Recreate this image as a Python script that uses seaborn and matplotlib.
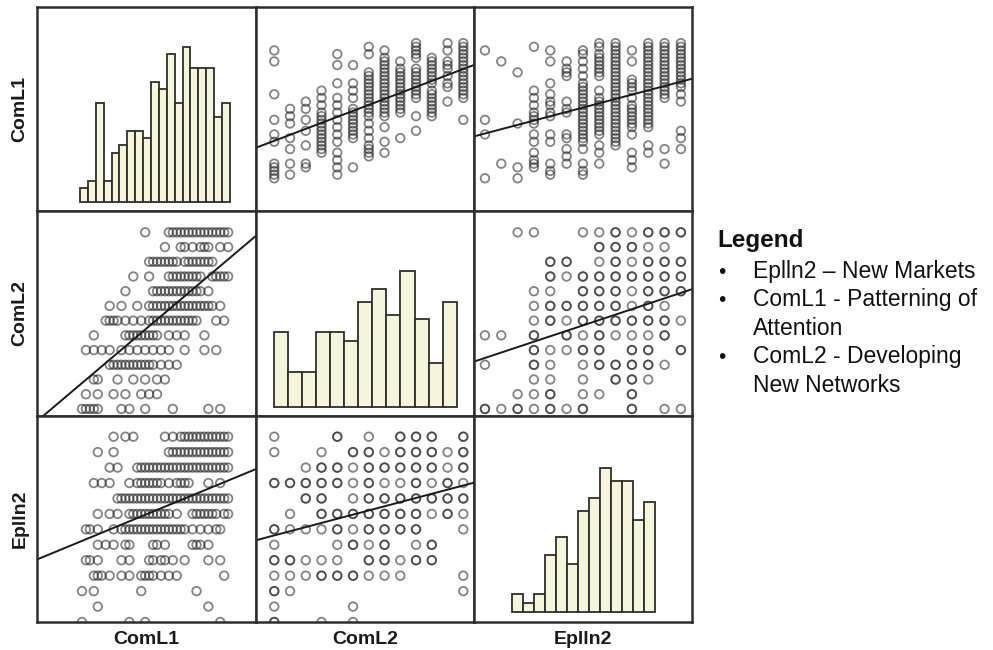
import numpy as np
import matplotlib
matplotlib.use("Agg")
import matplotlib.pyplot as plt
import seaborn as sns

variables = ["ComL1", "ComL2", "Eplln2"]

# diagonal histograms: bar counts
hist_coml1 = [2, 3, 14, 3, 7, 8, 10, 10, 9, 17, 16, 21, 14, 22, 19, 19, 19, 12, 14]
hist_coml2 = [17, 8, 8, 17, 17, 15, 24, 27, 21, 31, 20, 10, 24]
hist_eplln2 = [4, 2, 4, 13, 17, 11, 23, 26, 33, 30, 30, 21, 25]

# ComL1 scores (steps 0..37) seen at each ComL2 level 0..12
coml1_at_coml2 = [
    [0, 1, 2, 3, 4, 10, 12, 16, 23, 32, 35],
    [1, 4, 8, 11, 15, 17, 19],
    [3, 4, 9, 13, 16, 19, 21],
    [7, 8, 9, 10, 11, 12, 13, 14, 15, 16, 17, 18, 20, 22, 24],
    [1, 3, 5, 7, 10, 12, 14, 16, 18, 20, 22, 26, 31, 34],
    [3, 11, 12, 13, 14, 15, 16, 17, 18, 19, 22, 24, 26, 31],
    [6, 7, 8, 9, 11, 13, 15, 17, 18, 19, 20, 21, 22, 23, 24, 25, 26, 27, 28, 29, 34, 36],
    [7, 10, 14, 17, 18, 19, 20, 21, 22, 23, 24, 25, 26, 27, 28, 29, 30, 31, 32, 33, 35],
    [11, 18, 19, 20, 21, 22, 23, 24, 25, 26, 27, 28, 29, 30, 32],
    [13, 17, 22, 23, 24, 25, 26, 27, 28, 29, 30, 33, 34, 35, 36, 37],
    [17, 18, 19, 20, 21, 22, 23, 24, 26, 27, 28, 29, 30, 31, 32, 33],
    [21, 25, 26, 28, 30, 31, 32, 35, 37],
    [16, 22, 23, 24, 25, 26, 27, 28, 29, 30, 31, 32, 33, 34, 35, 36, 37],
]

# ComL1 scores seen at each Eplln2 level 0..12
coml1_at_eplln2 = [
    [0, 12, 16, 35],
    [4, 32],
    [0, 3, 15, 29],
    [3, 4, 5, 7, 10, 12, 15, 16, 17, 18, 20, 22, 24, 36],
    [1, 2, 4, 10, 12, 17, 18, 20, 21, 23, 26, 32, 35],
    [4, 6, 8, 11, 12, 18, 19, 21, 28, 29, 30, 32],
    [1, 2, 4, 8, 10, 11, 12, 13, 14, 15, 16, 17, 18, 19, 20, 21, 22, 23, 24, 25, 26, 28, 30, 32, 34, 35],
    [4, 7, 9, 12, 13, 14, 15, 16, 17, 18, 19, 20, 21, 22, 24, 28, 29, 30, 31, 32, 33, 34, 36, 37],
    [9, 10, 11, 12, 13, 14, 15, 16, 17, 18, 19, 20, 21, 22, 23, 24, 25, 26, 27, 28, 29, 30, 31, 32, 33, 34, 35, 36, 37],
    [3, 5, 7, 12, 14, 15, 16, 17, 18, 19, 20, 22, 24, 25, 26, 27, 32, 35],
    [7, 9, 14, 15, 16, 17, 18, 19, 20, 21, 22, 23, 24, 25, 26, 27, 28, 29, 30, 31, 32, 33, 34, 35, 36, 37],
    [4, 8, 22, 23, 24, 25, 26, 27, 28, 29, 30, 31, 32, 33, 34, 35, 36, 37],
    [8, 11, 13, 21, 23, 25, 26, 27, 28, 29, 30, 31, 32, 33, 34, 35, 36, 37],
]

# ComL2 rows (12 down to 0) x Eplln2 columns (0..12); digit = stacked circles
coml2_eplln2_grid = [
    "0011001121222",
    "0000000222110",
    "0000220121222",
    "0000212222222",
    "0001102221222",
    "0001222221210",
    "0001212222221",
    "1102021211120",
    "0002112202202",
    "1002101222210",
    "0001101022100",
    "0011201102000",
    "2121212002011",
]

legend_title = "Legend"
legend_lines = [
    ("\u2022", "Eplln2 \u2013 New Markets"),
    ("\u2022", "ComL1 - Patterning of"),
    ("", "Attention"),
    ("\u2022", "ComL2 - Developing"),
    ("", "New Networks"),
]


def stack(groups):
    lvl, val = [], []
    for i, vals in enumerate(groups):
        lvl += [i] * len(vals)
        val += list(vals)
    return np.array(lvl), np.array(val)


l2_a, l1_a = stack(coml1_at_coml2)
ep_b, l1_b = stack(coml1_at_eplln2)
l2_c, ep_c = [], []
for r, row in enumerate(coml2_eplln2_grid):
    for c, ch in enumerate(row):
        l2_c += [len(coml2_eplln2_grid) - 1 - r] * int(ch)
        ep_c += [c] * int(ch)
l2_c, ep_c = np.array(l2_c), np.array(ep_c)

values = {
    ("ComL1", "ComL2"): (l1_a, l2_a),
    ("ComL1", "Eplln2"): (l1_b, ep_b),
    ("ComL2", "Eplln2"): (l2_c, ep_c),
}
hists = {"ComL1": hist_coml1, "ComL2": hist_coml2, "Eplln2": hist_eplln2}

# panel limits (layout only)
xlims = {"ComL1": (-11.39, 44.06), "ComL2": (-1.16, 12.68), "Eplln2": (-0.67, 12.68)}
ylims = {"ComL1": (-8.96, 46.9), "ComL2": (-0.48, 13.45), "Eplln2": (0.0, 13.34)}
hist_xlims = {"ComL1": (-5.45, 22.3), "ComL2": (-1.28, 14.23), "Eplln2": (-3.49, 16.37)}
hist_ylims = {"ComL1": (-1.32, 27.7), "ComL2": (-2.13, 44.8), "Eplln2": (-2.36, 44.8)}

sns.set_theme(style="white")
plt.rcParams["font.family"] = ["Liberation Sans", "DejaVu Sans"]

W, H = 993, 650
fig = plt.figure(figsize=(W / 100, H / 100), dpi=100)
col_edges = [37, 256, 474, 692]
row_edges = [7, 211, 416, 622]

for i, yvar in enumerate(variables):
    for j, xvar in enumerate(variables):
        x0, x1 = col_edges[j], col_edges[j + 1]
        y0, y1 = row_edges[i], row_edges[i + 1]
        ax = fig.add_axes([x0 / W, 1 - y1 / H, (x1 - x0) / W, (y1 - y0) / H])
        if i == j:
            counts = np.asarray(hists[xvar], dtype=float)
            n = len(counts)
            sns.histplot(x=np.arange(n) + 0.5, weights=counts, bins=n, binrange=(0, n),
                         ax=ax, color="#f5f5dc", edgecolor="#2e2e2e", linewidth=1.3, alpha=1)
            ax.set_xlim(hist_xlims[xvar])
            ax.set_ylim(hist_ylims[xvar])
        else:
            if (xvar, yvar) in values:
                x, y = values[(xvar, yvar)]
            else:
                y, x = values[(yvar, xvar)]
            ax.set_xlim(xlims[xvar])
            ax.set_ylim(ylims[yvar])
            sns.scatterplot(x=x, y=y, ax=ax, marker="o", s=38, facecolor="none",
                            edgecolor="#1e1e1e", linewidth=1.3, alpha=0.55)
            sns.regplot(x=x, y=y, ax=ax, scatter=False, ci=None, truncate=False,
                        color="#1a1a1a", line_kws={"linewidth": 1.4})
            ax.set_xlim(xlims[xvar])
            ax.set_ylim(ylims[yvar])
        ax.set_xlabel("")
        ax.set_ylabel("")
        ax.set_xticks([])
        ax.set_yticks([])
        for sp in ax.spines.values():
            sp.set_color("#2e2e2e")
            sp.set_linewidth(1.8)

for k, name in enumerate(variables):
    cx = (col_edges[k] + col_edges[k + 1]) / 2
    cy = (row_edges[k] + row_edges[k + 1]) / 2
    fig.text(cx / W, 1 - 639 / H, name, ha="center", va="center",
             fontsize=14, fontweight="bold", color="#1a1a1a")
    fig.text(20 / W, 1 - cy / H, name, ha="center", va="center", rotation=90,
             fontsize=14, fontweight="bold", color="#1a1a1a")

fig.text(717 / W, 1 - 247 / H, legend_title, ha="left", va="baseline",
         fontsize=17.5, fontweight="bold", color="#111111")
for k, (bullet, txt) in enumerate(legend_lines):
    yb = 1 - (277.7 + 28.5 * k) / H
    if bullet:
        fig.text(718 / W, yb, bullet, ha="left", va="baseline", fontsize=15, color="#111111")
    fig.text(753 / W, yb, txt, ha="left", va="baseline", fontsize=16.5, color="#111111")

fig.savefig("out.png", dpi=100)
